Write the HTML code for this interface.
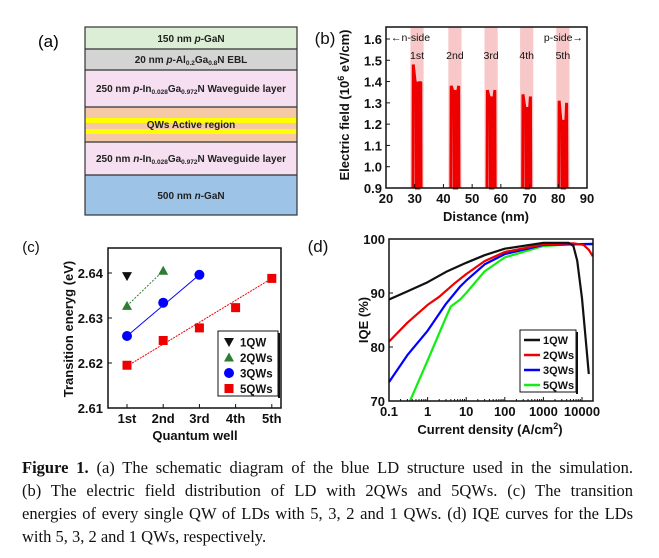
<!DOCTYPE html>
<html><head><meta charset="utf-8">
<style>
html,body{margin:0;padding:0;background:#fff;width:659px;height:558px;overflow:hidden}
svg{position:absolute;left:0;top:0}
.cap{position:absolute;left:22px;width:611px;font-family:"Liberation Serif",serif;font-size:16.5px;color:#111;white-space:nowrap}
.j{text-align:justify;text-align-last:justify}
text{font-family:"Liberation Sans",sans-serif}
</style></head><body>
<svg id="s" width="659" height="558" viewBox="0 0 659 558" xmlns="http://www.w3.org/2000/svg">
<text x="38" y="47" font-size="17">(a)</text>
<rect x="85" y="27" width="212" height="22" fill="#dcefd6"/>
<rect x="85" y="49" width="212" height="21" fill="#d4d4d4"/>
<rect x="85" y="70" width="212" height="37" fill="#f5dff0"/>
<rect x="85" y="107" width="212" height="35" fill="#f6c9a6"/>
<rect x="85" y="118" width="212" height="5" fill="#ffff00"/>
<rect x="85" y="129" width="212" height="5" fill="#ffff00"/>
<rect x="85" y="142" width="212" height="33" fill="#f5dff0"/>
<rect x="85" y="175" width="212" height="40" fill="#9dc3e6"/>
<g stroke="#333" stroke-width="1.2" fill="none">
<rect x="85" y="27" width="212" height="188"/>
<line x1="85" y1="49" x2="297" y2="49"/><line x1="85" y1="70" x2="297" y2="70"/>
<line x1="85" y1="107" x2="297" y2="107"/><line x1="85" y1="142" x2="297" y2="142"/>
<line x1="85" y1="175" x2="297" y2="175"/></g>
<g font-size="10" font-weight="bold" text-anchor="middle" fill="#222">
<text x="191" y="42">150 nm <tspan font-style="italic">p</tspan>-GaN</text>
<text x="191" y="63">20 nm <tspan font-style="italic">p</tspan>-Al<tspan font-size="6.5" dy="2">0.2</tspan><tspan dy="-2">Ga</tspan><tspan font-size="6.5" dy="2">0.8</tspan><tspan dy="-2">N EBL</tspan></text>
<text x="191" y="92">250 nm <tspan font-style="italic">p</tspan>-In<tspan font-size="6.5" dy="2">0.028</tspan><tspan dy="-2">Ga</tspan><tspan font-size="6.5" dy="2">0.972</tspan><tspan dy="-2">N Waveguide layer</tspan></text>
<text x="191" y="128">QWs Active region</text>
<text x="191" y="162">250 nm <tspan font-style="italic">n</tspan>-In<tspan font-size="6.5" dy="2">0.028</tspan><tspan dy="-2">Ga</tspan><tspan font-size="6.5" dy="2">0.972</tspan><tspan dy="-2">N Waveguide layer</tspan></text>
<text x="191" y="199">500 nm <tspan font-style="italic">n</tspan>-GaN</text>
</g>
<g id="b"></g><g id="c"></g><g id="d"></g>
</svg>
<div class="cap j" style="top:458px"><b>Figure 1.</b> (a) The schematic diagram of the blue LD structure used in the simulation.</div>
<div class="cap j" style="top:481px">(b) The electric field distribution of LD with 2QWs and 5QWs. (c) The transition</div>
<div class="cap j" style="top:504px">energies of every single QW of LDs with 5, 3, 2 and 1 QWs. (d) IQE curves for the LDs</div>
<div class="cap" style="top:527px">with 5, 3, 2 and 1 QWs, respectively.</div>
<script>
function T(x,y,s,o){o=o||{};return `<text x="${x}" y="${y}" font-size="${o.fs||13}" font-weight="${o.fw||'bold'}" text-anchor="${o.a||'middle'}" fill="${o.c||'#111'}" ${o.t?'transform="'+o.t+'"':''}>${s}</text>`}
(function(){let L=386,R=587,Tp=27,B=188;
const X=v=>L+(v-20)*(R-L)/70, Y=v=>B-(v-0.9)*(B-39)/0.7;
let h=T(325,44,'(b)',{fs:17,fw:'normal'});
const cs=[30.8,44,56.6,69,81.6];const lab=['1st','2nd','3rd','4th','5th'];
const pk=[[1.48,1.39,1.40,1.40],[1.38,1.35,1.36,1.38],[1.36,1.32,1.33,1.36],[1.34,1.27,1.28,1.33],[1.31,1.20,1.22,1.30]];
cs.forEach((c,i)=>{h+=`<rect x="${X(c-2.3)}" y="${Tp}" width="${X(c+2.3)-X(c-2.3)}" height="${B-Tp}" fill="#f8c8c8"/>`;
h+=T(X(c),59,lab[i],{fs:10.5,fw:'normal'});
const p=pk[i];let pts=[[c-1.4,0.85],[c-1.3,p[0]],[c-0.6,p[1]],[c-0.3,p[2]],[c-0.2,0.85],[c+0.6,0.85],[c+0.7,p[2]],[c+1.0,p[1]],[c+1.3,p[3]],[c+1.4,0.85]];
h+=`<polyline points="${pts.map(q=>X(q[0])+','+Math.min(Y(q[1]),B)).join(' ')}" fill="none" stroke="#e00" stroke-width="3"/>`;});
h+=`<rect x="${L}" y="${Tp}" width="${R-L}" height="${B-Tp}" fill="none" stroke="#111" stroke-width="1.5"/>`;
for(let v=20;v<=90;v+=10){h+=`<line x1="${X(v)}" y1="${B}" x2="${X(v)}" y2="${B-4}" stroke="#111"/>`+T(X(v),203,v,{fs:13});}
for(let k=0;k<8;k++){let v=0.9+k*0.1;h+=`<line x1="${L}" y1="${Y(v)}" x2="${L+4}" y2="${Y(v)}" stroke="#111"/>`+T(L-4,Y(v)+5,v.toFixed(1),{fs:13,a:'end'});}
h+=T(486,221,'Distance (nm)',{fs:13});
h+=T(0,0,'Electric field (10<tspan font-size="9" dy="-5">6</tspan><tspan dy="5"> eV/cm)</tspan>',{fs:13,t:'translate(349,105) rotate(-90)'});
h+=T(391,41,'←n-side',{fs:10.5,fw:'normal',a:'start'})+T(583,41,'p-side→',{fs:10.5,fw:'normal',a:'end'});
document.getElementById('b').innerHTML=h;})();
(function(){let L=108,R=281,Tp=248,B=408;
const X=i=>127+i*36.2, Y=v=>B-(v-2.61)*4500;
let h=T(31,252,'(c)',{fs:15,fw:'normal'});
h+=`<rect x="${L}" y="${Tp}" width="${R-L}" height="${B-Tp}" fill="none" stroke="#111" stroke-width="1.5"/>`;
[2.61,2.62,2.63,2.64].forEach(v=>{h+=`<line x1="${L}" y1="${Y(v)}" x2="${L+4}" y2="${Y(v)}" stroke="#111"/>`+T(L-5,Y(v)+5,v.toFixed(2),{fs:13,a:'end'});});
['1st','2nd','3rd','4th','5th'].forEach((s,i)=>{h+=`<line x1="${X(i)}" y1="${B}" x2="${X(i)}" y2="${B-4}" stroke="#111"/>`+T(X(i),423,s,{fs:13});});
h+=T(195,440,'Quantum well',{fs:13});
h+=T(0,0,'Transition eneryg (eV)',{fs:13,t:'translate(73,329) rotate(-90)'});
const ser=[['#2e7d32',[2.6327,2.6405],'tri'],['#00f',[2.626,2.6334,2.6396],'c'],['#e00',[2.6195,2.625,2.6278,2.6323,2.6388],'s']];
h+=`<line x1="${X(0)}" y1="${Y(2.6327)}" x2="${X(1)}" y2="${Y(2.6405)}" stroke="#2e7d32" stroke-dasharray="2,1.5"/>`;
h+=`<line x1="${X(0)}" y1="${Y(2.626)}" x2="${X(2)}" y2="${Y(2.6396)}" stroke="#00f"/>`;
h+=`<line x1="${X(0)}" y1="${Y(2.6193)}" x2="${X(4)}" y2="${Y(2.6388)}" stroke="#e00" stroke-dasharray="2,1"/>`;
function M(t,x,y,c){if(t=='tri')return `<polygon points="${x-5},${y+4} ${x+5},${y+4} ${x},${y-5}" fill="${c}"/>`;
if(t=='inv')return `<polygon points="${x-5},${y-4} ${x+5},${y-4} ${x},${y+5}" fill="${c}"/>`;
if(t=='c')return `<circle cx="${x}" cy="${y}" r="5" fill="${c}"/>`;return `<rect x="${x-4.5}" y="${y-4.5}" width="9" height="9" fill="${c}"/>`;}
h+=M('inv',X(0),Y(2.6393),'#111');
ser.forEach(s=>s[1].forEach((v,i)=>h+=M(s[2],X(i),Y(v),s[0])));
h+=`<rect x="218" y="331" width="60" height="65" fill="#fff" stroke="#111"/><rect x="278" y="333" width="2" height="65" fill="#111"/>`;
[['inv','#111','1QW'],['tri','#2e7d32','2QWs'],['c','#00f','3QWs'],['s','#e00','5QWs']].forEach((e,i)=>{let y=342+i*15.5;h+=M(e[0],229,y,e[1])+T(240,y+4.5,e[2],{fs:11.5,a:'start'});});
document.getElementById('c').innerHTML=h;})();
(function(){let L=389,R=593,Tp=239,B=401;
const X=j=>L+38.6*(Math.log10(j)+1), Y=v=>B-5.4*(v-70);
let h=T(318,252,'(d)',{fs:17,fw:'normal'});
const cur={'#111':[[0.1,88.8],[0.3,90.3],[1,92],[3,93.9],[10,95.6],[30,97],[100,98.2],[1000,99.3],[4500,99.3],[6000,98.7],[7500,96],[10000,89],[13000,80],[15000,75]],
'#e00':[[0.1,81],[0.3,84.5],[1,87.8],[2,89.3],[5,91.8],[10,93.5],[30,95.9],[100,97.6],[1000,99],[6000,99.2],[11000,98.9],[15000,98],[19000,96.8]],
'#00f':[[0.1,73.5],[0.3,78.5],[1,83],[3,88],[7,91.2],[10,92.3],[30,95.3],[100,97.2],[1000,98.9],[19000,99.1]],
'#1e1':[[0.35,70],[1,77.5],[3,85.5],[4,87.5],[7,88.8],[10,90],[30,94],[100,96.6],[1000,98.7],[5000,99],[19000,99]]};
['#1e1','#00f','#e00','#111'].forEach(c=>{h+=`<polyline points="${cur[c].map(p=>X(p[0]).toFixed(1)+','+Y(p[1]).toFixed(1)).join(' ')}" fill="none" stroke="${c}" stroke-width="2.2" stroke-linejoin="round"/>`;});
h+=`<rect x="${L}" y="${Tp}" width="${R-L}" height="${B-Tp}" fill="none" stroke="#111" stroke-width="1.5"/>`;
[70,80,90,100].forEach(v=>{h+=`<line x1="${L}" y1="${Y(v)}" x2="${L+4}" y2="${Y(v)}" stroke="#111"/>`+T(L-4,Y(v)+5,v,{fs:13,a:'end'});});
['0.1','1','10','100','1000','10000'].forEach((s,i)=>{let x=L+38.6*i;h+=`<line x1="${x}" y1="${B}" x2="${x}" y2="${B-4}" stroke="#111"/>`+T(x,416,s,{fs:13});
for(let m=2;m<10&&i<5;m++){let xm=x+38.6*Math.log10(m);h+=`<line x1="${xm}" y1="${B}" x2="${xm}" y2="${B-2}" stroke="#111"/>`;}});
h+=T(490,434,'Current density (A/cm<tspan font-size="9" dy="-5">2</tspan><tspan dy="5">)</tspan>',{fs:13});
h+=T(0,0,'IQE (%)',{fs:13,t:'translate(368,320) rotate(-90)'});
h+=`<rect x="520" y="330" width="56" height="62" fill="#fff" stroke="#111"/><rect x="576" y="332" width="2" height="62" fill="#111"/>`;
[['#111','1QW'],['#e00','2QWs'],['#00f','3QWs'],['#1e1','5QWs']].forEach((e,i)=>{let y=340+i*15;h+=`<line x1="524" y1="${y}" x2="540" y2="${y}" stroke="${e[0]}" stroke-width="2.5"/>`+T(543,y+4,e[1],{fs:11,a:'start'});});
document.getElementById('d').innerHTML=h;})();
</script>
</body></html>
